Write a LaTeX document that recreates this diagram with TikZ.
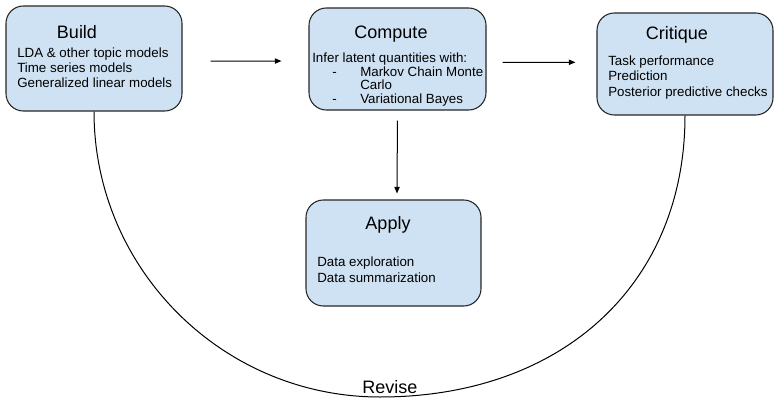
\documentclass[tikz,border=0pt]{standalone}
\usepackage{fontspec}
\setmainfont{Liberation Sans}
\usepackage{xcolor}
\usetikzlibrary{arrows.meta}
\definecolor{stageblue}{HTML}{CFE2F3}

\begin{document}
\begin{tikzpicture}[x=0.75pt,y=-0.75pt]
  \useasboundingbox (0,0) rectangle (779,407);
  \tikzstyle{stage}=[draw=black!85,fill=stageblue,line width=0.8pt,rounded corners=13pt,inner sep=0pt]
  \tikzstyle{heading}=[inner sep=0pt,text depth=0pt,font=\fontsize{13.5}{15}\selectfont]
  \tikzstyle{items}=[inner sep=0pt,anchor=west,align=left]
  \tikzstyle{flow}=[line width=0.75pt,-{Triangle[length=5pt,width=4pt]}]
  \node[stage,minimum width=132pt,minimum height=78.75pt] (build) at (94,58.5) {};
  \node[stage,minimum width=132.75pt,minimum height=76.5pt] (compute) at (397.5,59) {};
  \node[stage,minimum width=132pt,minimum height=76.5pt] (critique) at (685,64) {};
  \node[stage,minimum width=131.25pt,minimum height=79.5pt] (apply) at (393.5,253) {};
  \node[heading] (buildtitle) at (77,31.5) {Build};
  \node[heading] (computetitle) at (391,32.3) {Compute};
  \node[heading] (critiquetitle) at (677,32.5) {Critique};
  \node[heading] (applytitle) at (388,222.5) {Apply};
  \node[items,font=\fontsize{10}{11.25}\selectfont] (builditems) at (17,68)
    {LDA \& other topic models\\Time series models\\Generalized linear models};
  \node[items,font=\fontsize{10}{10.3}\selectfont] (computeitems) at (312,79.5)
    {Infer latent quantities with:\\
     \hspace*{15pt}\makebox[21pt][l]{-}Markov Chain Monte\\
     \hspace*{36pt}Carlo\\
     \hspace*{15pt}\makebox[21pt][l]{-}Variational Bayes};
  \node[items,font=\fontsize{10}{11.6}\selectfont] (critiqueitems) at (608,77.5)
    {Task performance\\Prediction\\Posterior predictive checks};
  \node[items,font=\fontsize{10}{12}\selectfont] (applyitems) at (317,270)
    {Data exploration\\Data summarization};
  \node[heading] (revise) at (390,386.5) {Revise};
  \coordinate (low) at (380,397);
  \draw[flow,shorten <=21pt,shorten >=20.25pt] ([yshift=-2pt]build.east) -- ([yshift=-1.5pt]compute.west);
  \draw[flow,shorten <=12pt,shorten >=15.75pt] ([yshift=-2.5pt]compute.east) -- ([yshift=1.3pt]critique.west);
  \draw[flow,shorten <=7.5pt,shorten >=4.5pt] (compute.south) -- ([xshift=2.6pt]apply.north);
  \draw[line width=0.75pt] (build.south) .. controls +(0,157) and +(-158,0) .. (low)
    .. controls +(183,0) and +(0,168) .. (critique.south);
\end{tikzpicture}
\end{document}
